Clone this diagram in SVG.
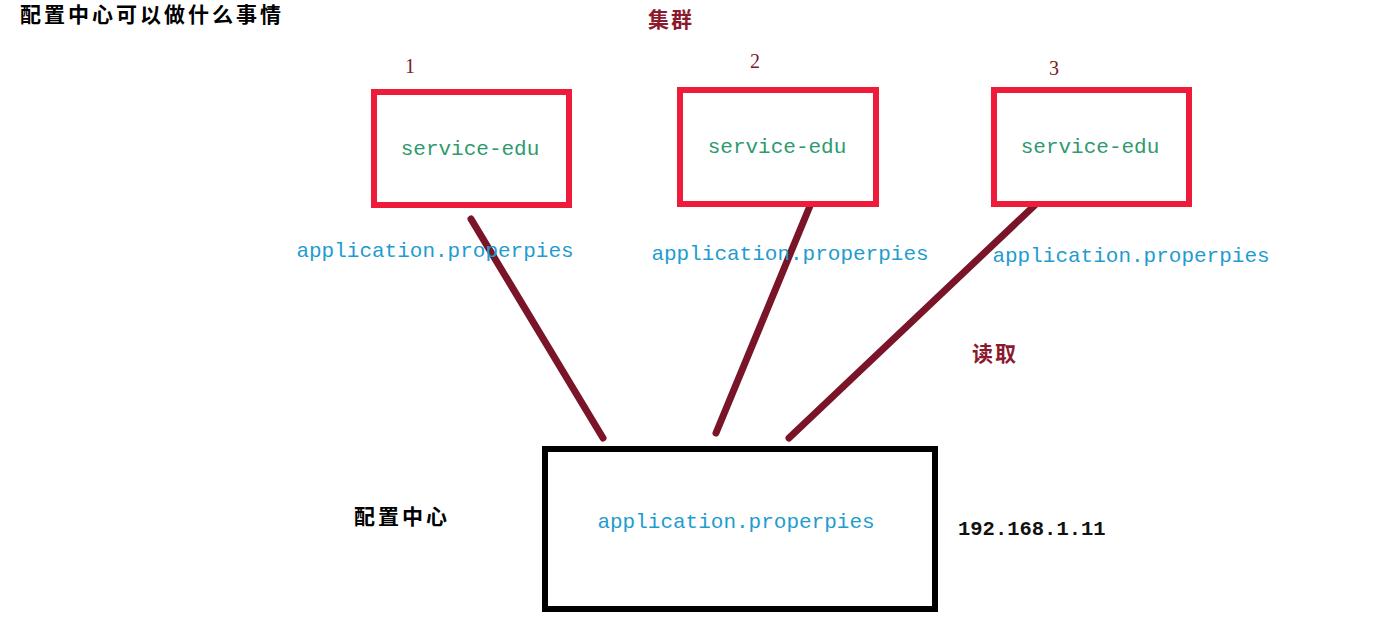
<svg xmlns="http://www.w3.org/2000/svg" width="1375" height="623" viewBox="0 0 1375 623">
<style>
.cn{font-family:"Noto Sans CJK SC","Noto Sans",sans-serif;font-weight:bold;font-size:21px}
.red{fill:#8b1a2e}
.num{font-family:"Liberation Serif",serif;font-size:20px;fill:#7a1a2a}
.mono{font-family:"Liberation Mono",monospace;font-size:21px;text-anchor:middle}
.svc{fill:#2e9a6e}
.app{fill:#1f9ccf}
.rbox{fill:#fff;stroke:#ee1c3a;stroke-width:6}
.bbox{fill:#fff;stroke:#000;stroke-width:6}
.link{stroke:#7a1428;stroke-width:7;stroke-linecap:round}
</style>
<rect width="1375" height="623" fill="#fff"/>
<text class="cn" x="20" y="22" letter-spacing="3">配置中心可以做什么事情</text>
<text class="cn red" x="648" y="27" letter-spacing="2">集群</text>
<text class="cn red" x="972" y="361" letter-spacing="2">读取</text>
<text class="cn" x="354" y="524" letter-spacing="3">配置中心</text>
<g id="connectors">
<line class="link" x1="471" y1="219" x2="603" y2="438"/>
<line class="link" x1="812" y1="201" x2="716" y2="433"/>
<line class="link" x1="1035" y1="205" x2="789" y2="438"/>
</g>
<g id="node1">
<text class="num" x="405" y="73">1</text>
<rect class="rbox" x="374" y="92" width="195" height="113"/>
<text class="mono svc" x="470" y="155">service-edu</text>
<text class="mono app" x="435" y="257">application.properpies</text>
</g>
<g id="node2">
<text class="num" x="750" y="68">2</text>
<rect class="rbox" x="680" y="90" width="196" height="114"/>
<text class="mono svc" x="777" y="153">service-edu</text>
<text class="mono app" x="790" y="260">application.properpies</text>
</g>
<g id="node3">
<text class="num" x="1049" y="75">3</text>
<rect class="rbox" x="994" y="90" width="195" height="114"/>
<text class="mono svc" x="1090" y="153">service-edu</text>
<text class="mono app" x="1131" y="262">application.properpies</text>
</g>
<g id="config-center">
<rect class="bbox" x="545" y="449" width="390" height="160"/>
<text class="mono app" x="736" y="528">application.properpies</text>
</g>
<text x="958" y="535" font-family="Liberation Mono,monospace" font-size="20.5" font-weight="bold" fill="#111">192.168.1.11</text>
</svg>
